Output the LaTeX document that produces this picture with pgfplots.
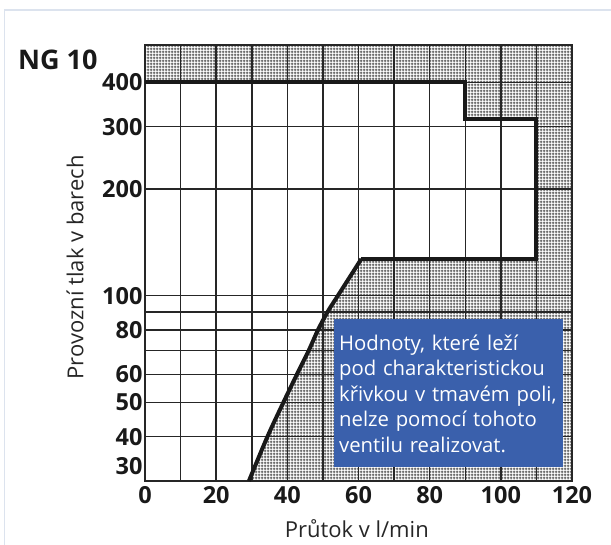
\documentclass[border=0pt]{standalone}
\usepackage{fontspec}
\setmainfont{Open Sans}
\usepackage{pgfplots}
\pgfplotsset{compat=1.18}
\usetikzlibrary{patterns.meta}

\definecolor{boxblue}{HTML}{3A60AC}
\definecolor{framec}{HTML}{DCE3EE}

% fine grey check used for the "not possible" area
\tikzdeclarepattern{
  name=fgrid,
  type=uncolored,
  bounding box={(0,0) and (3bp,3bp)},
  tile size={(3bp,3bp)},
  code={
    \draw[line width=1.2bp] (0,1.5bp) -- (3bp,1.5bp);
    \draw[line width=1.2bp] (1.5bp,0) -- (1.5bp,3bp);
  }
}

\begin{document}
\begin{tikzpicture}
\begin{axis}[
    set layers, axis on top,
    at={(0,0)}, anchor=south west,
    width=427bp, height=436bp, scale only axis,
    xmin=0, xmax=120,
    ymode=log, ymin=30, ymax=510,
    xtick={0,20,...,120},
    minor xtick={10,30,...,110},
    ytick={30,40,50,60,80,100,200,300,400},
    yticklabels={{\raisebox{7bp}[0pt][0pt]{30}},40,50,60,80,100,200,300,400},
    minor ytick={70,90},
    major tick length=0pt, minor tick length=0pt,
    grid=both,
    major grid style={black!85, line width=1.5bp},
    minor grid style={black!85, line width=1.5bp},
    axis line style={black!85, line width=1.8bp},
    /pgf/number format/assume math mode=true,
    ticklabel style={font=\fontsize{23.5bp}{26bp}\selectfont\bfseries, black!90},
    xticklabel style={yshift=-2bp},
    yticklabel style={xshift=1bp},
    xlabel={Průtok v l/min},
    ylabel={Provozní tlak v barech},
    label style={font=\fontsize{22bp}{26bp}\selectfont, black!85},
    xlabel style={at={(axis description cs:0.496,-0.13)}, anchor=base},
    ylabel style={at={(axis description cs:-0.164,0.49)}, anchor=center},
  ]
% hatched area outside the working range
\addplot[draw=none, pattern=fgrid, pattern color=black!65] coordinates {
  (0,510) (120,510) (120,30) (29.2,30) (34.4,40) (38.9,50) (42.7,60)
  (46.0,70) (48.6,80) (51.3,90) (54.2,100) (60.8,127) (110,127)
  (110,316) (90,316) (90,400) (0,400)
};
% border of the working range
\addplot[on layer=axis foreground, black!90, line width=4bp, line join=miter] coordinates {
  (0,400) (90,400) (90,316) (110,316) (110,127) (60.8,127)
};
\addplot[on layer=axis foreground, black!90, line width=4bp, smooth, tension=0.5] coordinates {
  (60.8,127) (54.2,100) (51.3,90) (48.6,80) (46.0,70) (42.7,60)
  (38.9,50) (34.4,40) (29.2,30)
};
\begin{pgfonlayer}{axis foreground}
\node[anchor=north west, fill=boxblue, text=white, inner xsep=5bp, inner ysep=0pt,
      minimum width=229bp, minimum height=148bp, text width=219bp, align=left,
      font=\fontsize{20.3bp}{25.5bp}\selectfont]
  at (axis cs:53.1,86.1)
  {\raisebox{0pt}[17bp][0pt]{}Hodnoty, které leží\\pod charakteristickou\\křivkou v~tmavém poli,\\nelze pomocí tohoto\\ventilu realizovat.};
\end{pgfonlayer}
\end{axis}
\node[anchor=base west, inner sep=0pt, font=\fontsize{27bp}{30bp}\selectfont\bfseries, black!90]
  at (-127bp,411bp) {NG 10};
\draw[framec, line width=1.2bp] (-140.5bp,-64bp) -- (-140.5bp,471bp) -- (466bp,471bp);
\pgfresetboundingbox
\path[use as bounding box] (-145bp,-64bp) rectangle (466bp,481bp);
\end{tikzpicture}
\end{document}
